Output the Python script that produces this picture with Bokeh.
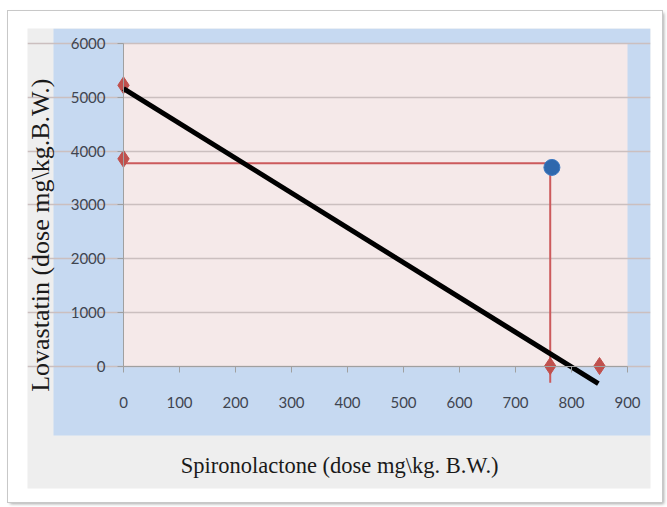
import math
from bokeh.plotting import figure
from bokeh.models import Range1d, LinearAxis, FixedTicker, Grid, BoxAnnotation, Label
from bokeh.embed import file_html
from bokeh.resources import INLINE

# ---- data ----
x_ticks = [0, 100, 200, 300, 400, 500, 600, 700, 800, 900]
y_ticks = [0, 1000, 2000, 3000, 4000, 5000, 6000]

# regression / additivity line
line_x = [0, 848]
line_y = [5170, -330]

# reference (projection) lines to the blue point
ref_x = [0, 762, 762]
ref_y = [3780, 3780, -310]

# red diamond points
dia_x = [0, 0, 762, 850]
dia_y = [5230, 3860, 0, 0]

# blue point
pt_x = [765]
pt_y = [3700]

x_title = "Spironolactone  (dose mg\\kg. B.W.)"
y_title = "Lovastatin  (dose mg\\kg.B.W.)"

BLUE_BG = "#c6d9f1"
PINK = "#f5e9e9"
GRAY = "#eeeeee"
RED = "#c0504d"
TICK_COLOR = "#3f4550"

p = figure(width=654, height=491, output_backend="svg", toolbar_location=None,
           x_range=Range1d(-171.43, 941.07), y_range=Range1d(-2282.6, 6288.8),
           x_axis_location=None, y_axis_location=None,
           min_border_left=19, min_border_right=12, min_border_top=17, min_border_bottom=14,
           border_fill_color="white", background_fill_color=GRAY,
           outline_line_color=None, margin=(11, 0, 0, 8),
           styles={"box-shadow": "0 0 0 1px #c8c8c8, 2px 2px 3px #a8a8a8"})

# drop any default grids
p.center = [r for r in p.center if not isinstance(r, Grid)]

# chart area (blue) and plot area (pink)
chart_area = BoxAnnotation(left=-125, bottom=-1295,
                           fill_color=BLUE_BG, fill_alpha=1, line_color=None, level="image")
p.add_layout(chart_area)
plot_area = BoxAnnotation(left=0, right=900, bottom=0, top=6000,
                          fill_color=PINK, fill_alpha=1, line_color=None, level="image")
p.add_layout(plot_area)

# horizontal gridlines over the plot area
yticker = FixedTicker(ticks=y_ticks)
p.add_layout(Grid(dimension=1, ticker=yticker, bounds=(0, 900),
                  grid_line_color="#cbbfbf", grid_line_width=1.5))

# main axes at data zero
yax = LinearAxis(fixed_location=0, bounds=(0, 6000), ticker=yticker)
xax = LinearAxis(fixed_location=0, bounds=(0, 900), ticker=FixedTicker(ticks=x_ticks))
for ax, standoff in ((yax, 12), (xax, 25)):
    ax.axis_line_color = "#a0a0a0"
    ax.axis_line_width = 1
    ax.major_tick_line_color = "#a0a0a0"
    ax.major_tick_out = 6
    ax.major_tick_in = 0
    ax.minor_tick_line_color = None
    ax.major_label_text_font = "Lato"
    ax.major_label_text_font_size = "15px"
    ax.major_label_text_color = TICK_COLOR
    ax.major_label_standoff = standoff
p.add_layout(yax, "left")
p.add_layout(xax, "below")

# axis titles
p.add_layout(Label(x=-148, y=2497, text=y_title, angle=math.pi / 2,
                   text_align="center", text_baseline="middle",
                   text_font="Liberation Serif", text_font_size="26px",
                   text_color="#1a1a1a"))
p.add_layout(Label(x=391, y=-1854, text=x_title,
                   text_align="center", text_baseline="middle",
                   text_font="Liberation Serif", text_font_size="22.5px",
                   text_color="#1a1a1a"))

# glyphs
p.line(ref_x, ref_y, line_color="#cc5a5c", line_width=2)
p.scatter(dia_x, dia_y, marker="diamond", size=17, fill_color=RED, line_color=RED)
p.line(line_x, line_y, line_color="black", line_width=5)
p.scatter(pt_x, pt_y, marker="circle", size=16, fill_color="#2f68ad", line_color="#3a78c2")

open("out.html", "w").write(file_html(p, INLINE))
